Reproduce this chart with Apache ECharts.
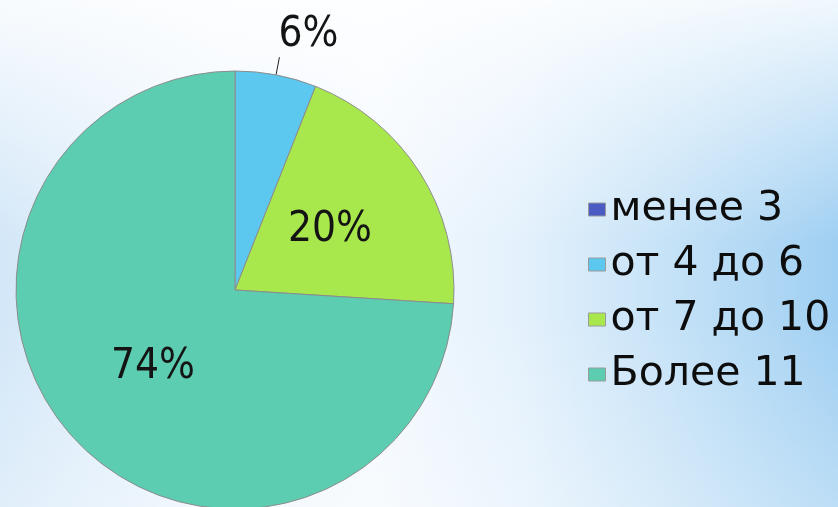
<!DOCTYPE html>
<html>
<head>
<meta charset="utf-8">
<script src="https://cdn.jsdelivr.net/npm/echarts@6/dist/echarts.min.js"></script>
<style>
html,body{margin:0;padding:0;width:838px;height:507px;overflow:hidden;}
body{
  background:
    linear-gradient(to bottom, rgba(255,255,255,0.85) 0%, rgba(255,255,255,0.35) 28%, rgba(255,255,255,0) 48%, rgba(255,255,255,0) 62%, rgba(255,255,255,0.3) 100%),
    linear-gradient(to right, #d3e7f8 0%, #eef6fd 25%, #f4f9fe 45%, #e4f1fc 62%, #c5e2f7 80%, #9fcff2 100%);
}
#chart{width:838px;height:507px;}
</style>
</head>
<body>
<div id="chart"></div>
<script>
const categories = ['менее 3', 'от 4 до 6', 'от 7 до 10', 'Более 11'];
const values = [0, 6, 20, 74];
const colors = ['#4a5cc4', '#5cc8f0', '#a8e84c', '#5ccdb0'];

const chart = echarts.init(document.getElementById('chart'), null, {renderer: 'canvas'});
const data = categories.map((c, i) => {
  const item = {name: c, value: values[i], itemStyle: {color: colors[i]}};
  if (values[i] === 0) item.label = {show: false};
  if (values[i] === 6) {
    item.label = {position: 'outside'};
    item.labelLine = {show: true, length: 18, length2: 0, lineStyle: {color: '#222', width: 1}};
  }
  return item;
});

chart.setOption({
  backgroundColor: 'transparent',
  animation: false,
  legend: {
    orient: 'vertical',
    left: 588,
    top: 189,
    padding: 0,
    itemWidth: 17,
    itemHeight: 13,
    itemGap: 14,
    icon: 'rect',
    selectedMode: false,
    itemStyle: {borderColor: '#9a9a9a', borderWidth: 1},
    textStyle: {fontFamily: 'DejaVu Sans', fontSize: 41, color: '#0d0d0d', lineHeight: 41},
    data: categories
  },
  series: [{
    type: 'pie',
    center: [235, 290],
    radius: 219,
    startAngle: 90,
    clockwise: true,
    avoidLabelOverlap: false,
    itemStyle: {borderColor: '#8c8c8c', borderWidth: 1},
    label: {
      show: true,
      position: 'inside',
      formatter: '{c}%',
      fontFamily: '"Liberation Sans Narrow", "DejaVu Sans Condensed", sans-serif',
      fontSize: 42,
      color: '#141414'
    },
    labelLine: {show: false},
    labelLayout: function (p) {
      if (p.dataIndex === 1) return {dx: -6, dy: -22};
      return {};
    },
    data: data
  }]
});
</script>
</body>
</html>
